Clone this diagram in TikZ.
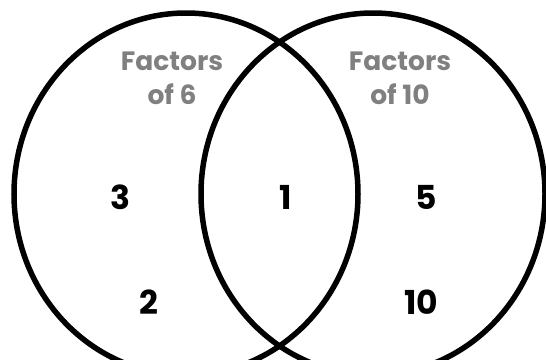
\documentclass[tikz,border=0pt]{standalone}
\usepackage{fontspec}
\setmainfont{Poppins}
\usetikzlibrary{shapes.geometric,positioning}
\definecolor{labelgray}{HTML}{808080}
\tikzset{
  set/.style={draw, ellipse, line width=5.5pt, minimum width=344pt, minimum height=362pt, inner sep=0pt},
  title/.style={text=labelgray, font=\fontsize{26.5}{32}\selectfont\bfseries, anchor=base, inner sep=0pt},
  elem/.style={font=\fontsize{33}{40}\selectfont\bfseries, inner sep=0pt}
}

\begin{document}
\begin{tikzpicture}[x=1pt, y=-1pt]
  \useasboundingbox (0,0) rectangle (546,359);
  \clip (0,0) rectangle (546,359);
  \node[set] (six) at (186,194) {}; %left set
  \node[set] (ten) at (373,194) {}; %right set

  \node[title] (t6) at (172,70.7) {Factors};
  \node[title] (o6) at (172,104.5) {of 6};
  \node[title] (t10) at (400,70.7) {Factors};
  \node[title] (o10) at (400,104.5) {of 10};

  \node[elem] (e3) at (120,197) {3};
  \node[elem] (e2) at (149,302) {2};
  \node[elem] (e1) at (285.5,197) {1};
  \node[elem] (e5) at (426.5,197) {5};
  \node[elem] (e10) at (421,302) {10};
\end{tikzpicture}
\end{document}
